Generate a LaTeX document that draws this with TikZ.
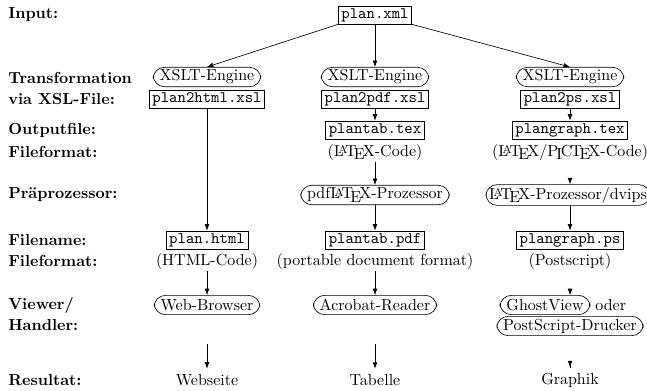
\documentclass[tikz,border=0pt]{standalone}
\usepackage{tikz}
\usetikzlibrary{arrows.meta, positioning}

\newcommand{\PiCTeXlogo}{P\kern-.12em\lower.5ex\hbox{I}\kern-.075emC\kern-.11em\TeX}

\begin{document}
\begin{tikzpicture}[
  >={Latex[length=4pt,width=3pt]},
  x=0.625pt, y=-0.625pt, % Pixelraster des Bildes: 647 x 390
  rowlabel/.style={anchor=west, font=\bfseries, inner sep=0pt},
  filebox/.style={draw, thin, font=\ttfamily, inner xsep=2pt, inner ysep=1.5pt},
  engine/.style={draw, thin, rounded corners=7pt, minimum height=12pt,
                 inner xsep=4pt, inner ysep=1.5pt},
  fmt/.style={inner sep=1pt},
  flow/.style={->, thin}
]
  \useasboundingbox (0,0) rectangle (647,390);

  % Zeilenbeschriftung links
  \foreach \y/\t [count=\i] in {15/Input:, 78/Transformation, 99/via XSL-File:,
      130/Outputfile:, 152/Fileformat:, 195/Präprozessor:, 240/Filename:,
      261/Fileformat:, 305/{Viewer/}, 325/Handler:, 380/Resultat:} {
    \node[rowlabel] (lab\i) at (8,\y) {\t};
  }

  % Eingabe und XSLT-Schritt
  \node[filebox] (xml) at (375,15) {plan.xml};
  \foreach \c/\x/\f in {html/207/plan2html.xsl, pdf/375/plan2pdf.xsl, ps/570/plan2ps.xsl} {
    \node[engine] (eng\c) at (\x,77) {XSLT-Engine};
    \node[filebox] (xsl\c) at (\x,99) {\f};
  }
  \draw[flow] (xml.south west) -- (enghtml.north);
  \draw[flow] (xml) -- (engpdf);
  \draw[flow] (xml.south east) -- (engps.north);

  % Spalte HTML
  \node[filebox] (html) at (207,240) {plan.html};
  \node[fmt] (htmlfmt) at (207,261) {(HTML-Code)};
  \node[engine] (browser) at (207,305) {Web-Browser};
  \node (webseite) at (207,380) {Webseite};
  \draw[flow] (xslhtml) -- (html);
  \draw[flow] (htmlfmt) -- (browser);
  \draw[flow, shorten <=18pt] (browser) -- (webseite);

  % Spalte PDF
  \node[filebox] (tex) at (375,130) {plantab.tex};
  \node[fmt] (texfmt) at (375,152) {(\LaTeX-Code)};
  \node[engine] (pdflatex) at (375,195) {pdf\LaTeX-Prozessor};
  \node[filebox] (pdf) at (375,240) {plantab.pdf};
  \node[fmt] (pdffmt) at (375,261) {(portable document format)};
  \node[engine] (acro) at (375,305) {Acrobat-Reader};
  \node (tabelle) at (375,380) {Tabelle};
  \draw[flow] (xslpdf) -- (tex);
  \draw[flow] (texfmt) -- (pdflatex);
  \draw[flow] (pdflatex) -- (pdf);
  \draw[flow] (pdffmt) -- (acro);
  \draw[flow, shorten <=18pt] (acro) -- (tabelle);

  % Spalte PostScript
  \node[filebox] (ptex) at (570,130) {plangraph.tex};
  \node[fmt] (ptexfmt) at (570,152) {(\LaTeX/\PiCTeXlogo-Code)};
  \node[engine, inner xsep=2pt] (dvips) at (568,195) {\LaTeX-Prozessor/dvips};
  \node[filebox] (ps) at (570,240) {plangraph.ps};
  \node[fmt] (psfmt) at (570,261) {(Postscript)};
  \node[engine] (gv) at (545,305) {GhostView};
  \node[inner sep=1pt, right=2pt of gv] (oder) {oder};
  \node[engine] (drucker) at (570,326) {PostScript-Drucker};
  \node (graphik) at (570,380) {Graphik};
  \draw[flow] (xslps) -- (ptex);
  \draw[flow, shorten <=12pt] (ptexfmt) -- (ptexfmt |- dvips.north);
  \draw[flow] (dvips.south -| ps) -- (ps);
  \draw[flow, shorten <=12pt] (psfmt) -- (psfmt |- gv.north);
  \draw[flow, shorten <=20pt] (drucker) -- (graphik);
\end{tikzpicture}
\end{document}
